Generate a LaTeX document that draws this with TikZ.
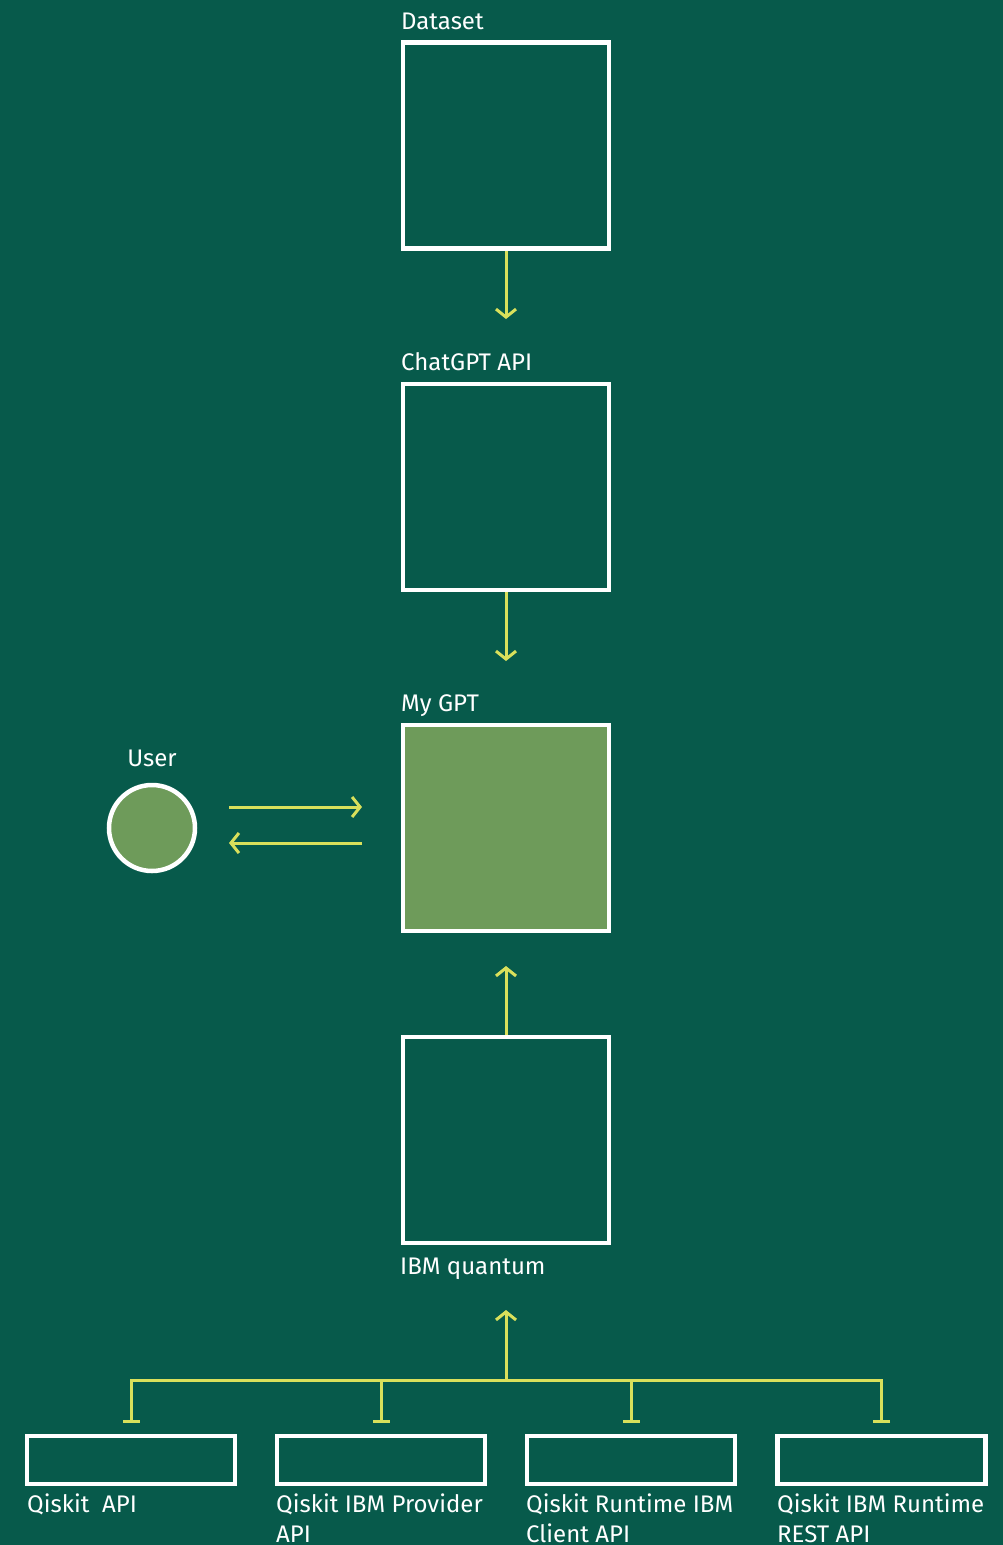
\documentclass[tikz,border=0pt]{standalone}
\usepackage{fontspec}
\setmainfont{Fira Sans}
\usetikzlibrary{arrows.meta,positioning,calc}
\definecolor{bggreen}{HTML}{075A4B}
\definecolor{gptgreen}{HTML}{6E9B5A}
\definecolor{flowyellow}{HTML}{D9E05B}

\begin{document}
\begin{tikzpicture}[x=1pt,y=-1pt,
    box/.style={draw=white,line width=4.5pt,minimum width=206pt,minimum height=206pt,inner sep=0pt},
    apibox/.style={draw=white,line width=4.5pt,minimum width=208pt,minimum height=48pt,inner sep=0pt},
    lbl/.style={text=white,font=\fontsize{24}{30}\selectfont,inner sep=0pt,align=left},
    flow/.style={draw=flowyellow,line width=3pt,-{Straight Barb[length=8pt,width=20pt,line width=3pt]}},
    tee/.style={draw=flowyellow,line width=3pt,-{Bar[width=17pt,line width=3pt]}}]
    % Background
    \fill[bggreen] (0,0) rectangle (1003,1545);
    \useasboundingbox (0,0) rectangle (1003,1545);
    % Main column
    \node[box] (dataset) at (506,145.5) {};
    \node[box] (chatgpt) at (506,487) {};
    \node[box,fill=gptgreen] (mygpt) at (506,828) {};
    \node[box] (ibmq) at (506,1140) {};
    \node[lbl,anchor=base west] (dataset-lbl) at (401,29) {Dataset};
    \node[lbl,anchor=base west] (chatgpt-lbl) at (401,370) {ChatGPT API};
    \node[lbl,anchor=base west] (mygpt-lbl) at (401,711) {My GPT};
    \node[lbl,anchor=base west] (ibmq-lbl) at (400,1274) {IBM quantum};
    % User
    \node[circle,draw=white,line width=4.5pt,fill=gptgreen,minimum size=86pt,inner sep=0pt] (user) at (152,828) {};
    \node[lbl,anchor=base] (user-lbl) at (152,766) {User};
    % Flows
    \coordinate (chatgpt-in) at (506,319);
    \coordinate (mygpt-in) at (506,661);
    \coordinate (mygpt-up) at (506,966);
    \draw[flow] (dataset.south) -- (chatgpt-in);
    \draw[flow] (chatgpt.south) -- (mygpt-in);
    \draw[flow] (ibmq.north) -- (mygpt-up);
    \coordinate (user-out) at (229,807);
    \coordinate (gpt-in) at (362,807);
    \coordinate (gpt-out) at (362,843);
    \coordinate (user-in) at (229,843);
    \draw[flow] (user-out) -- (gpt-in);
    \draw[flow] (gpt-out) -- (user-in);
    % APIs
    \node[apibox] (qiskit) at (131,1460) {};
    \node[apibox] (provider) at (381,1460) {};
    \node[apibox] (client) at (631,1460) {};
    \node[apibox] (rest) at (881.5,1460) {};
    \node[lbl,anchor=base west] (qiskit-lbl) at (27,1512) {Qiskit\ \ API};
    \node[lbl,anchor=base west] (provider-lbl) at (276,1542) {Qiskit IBM Provider\\API};
    \node[lbl,anchor=base west] (client-lbl) at (526,1542) {Qiskit Runtime IBM\\Client API};
    \node[lbl,anchor=base west] (rest-lbl) at (777,1542) {Qiskit IBM Runtime\\REST API};
    \coordinate (hub) at (506,1380);
    \coordinate (ibmq-in) at (506,1310);
    \draw[flow] (hub) -- (ibmq-in);
    \foreach \api in {qiskit,provider,client,rest}
        \draw[tee] (hub) -| ([yshift=11pt]\api.north);
\end{tikzpicture}
\end{document}
